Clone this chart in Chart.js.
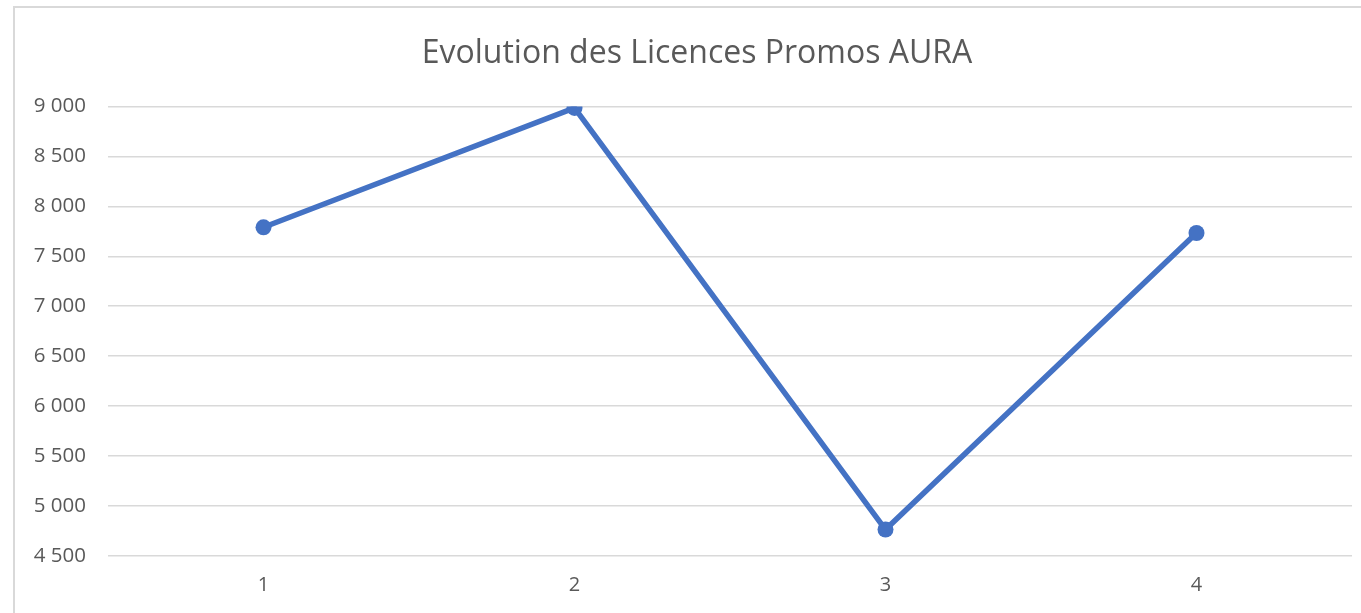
<!DOCTYPE html>
<html><head><meta charset="utf-8">
<script src="https://cdn.jsdelivr.net/npm/chart.js@4/dist/chart.umd.min.js"></script>
<style>
html,body{margin:0;padding:0;background:#fff;overflow:hidden;}
#frame{position:absolute;left:13px;top:6px;width:1400px;height:700px;border-left:2px solid #d9d9d9;border-top:2px solid #d9d9d9;box-sizing:border-box;}
#wrap{position:absolute;left:0;top:0;width:1361px;height:613px;}
</style></head>
<body>
<div id="frame"></div>
<div id="wrap"><canvas id="c" width="1361" height="613"></canvas></div>
<script>
const categories = ["1", "2", "3", "4"];
const licences = [7790, 8985, 4765, 7733];
const yMin = 4500, yMax = 9000, yStep = 500;
const titleText = "Evolution des Licences Promos AURA";

const fmt = v => String(v).replace(/\B(?=(\d{3})+(?!\d))/g, " ");
const FONT = "'Open Sans', sans-serif";

// centre the title over the chart frame (frame starts at x=14)
const titleShift = {
  id: 'titleShift',
  afterLayout(chart) {
    if (chart.titleBlock) chart.titleBlock.left = 42;
  }
};

new Chart(document.getElementById('c'), {
  type: 'line',
  data: {
    labels: categories,
    datasets: [{
      data: licences,
      borderColor: '#4472C4',
      backgroundColor: '#4472C4',
      borderWidth: 5.5,
      pointRadius: 8,
      pointHoverRadius: 8,
      pointBackgroundColor: '#4472C4',
      pointBorderWidth: 0,
      tension: 0,
      fill: false
    }]
  },
  plugins: [titleShift],
  options: {
    responsive: false,
    animation: false,
    devicePixelRatio: 1,
    layout: { padding: { left: 0, right: 9, top: 0, bottom: 0 } },
    plugins: {
      legend: { display: false },
      tooltip: { enabled: false },
      title: {
        display: true,
        text: titleText,
        color: '#595959',
        font: { family: FONT, size: 32, weight: 'normal' },
        padding: { top: 35, bottom: 33 }
      }
    },
    scales: {
      x: {
        offset: true,
        grid: { display: false, drawTicks: false },
        border: { display: false },
        ticks: { color: '#595959', font: { family: FONT, size: 20 }, padding: 17 },
        afterFit: s => { s.height = 613 - 556; }
      },
      y: {
        min: yMin, max: yMax,
        grid: { color: '#d9d9d9', lineWidth: 1.5, drawTicks: false },
        border: { display: false },
        ticks: {
          stepSize: yStep,
          color: '#595959',
          font: { family: FONT, size: 20.5 },
          padding: 22,
          callback: v => fmt(v)
        },
        afterFit: s => { s.width = 108; }
      }
    }
  }
});
</script>
</body></html>
